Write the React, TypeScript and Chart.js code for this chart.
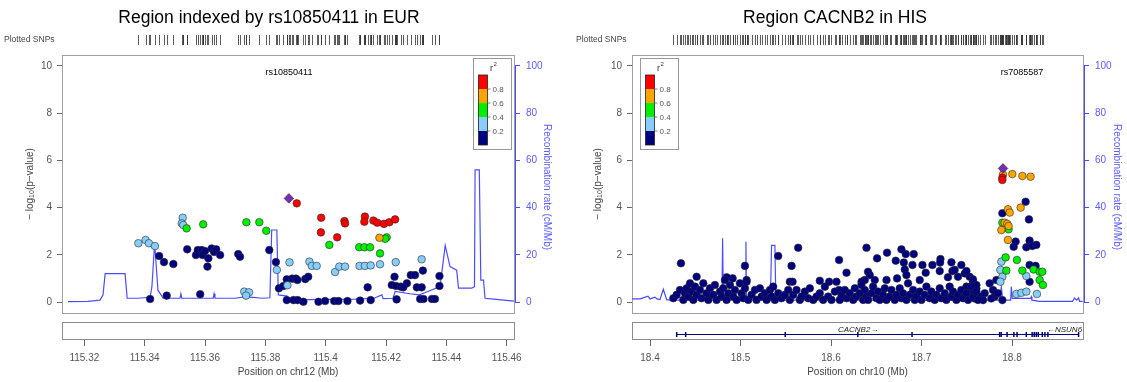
import React, { useEffect, useRef } from 'react';
import { Chart, registerables } from 'chart.js';

Chart.register(...registerables);

type Pt = [number, number];

const FONT = "'Liberation Sans', Arial, Helvetica, sans-serif";
const H = 382;

// r^2 bin colours, low -> high
const R2_COLORS = ['#000080', '#87CEFA', '#00EE00', '#FFA500', '#FF0000'];
const LEAD_COLOR = '#7A2BB8';
const RECOMB_COLOR = '#4C4CFF';
const BLUE_TEXT = '#5C5CFF';
const R2_TICK_LABELS = ['0.2', '0.4', '0.6', '0.8'];
const Y_TICKS = [0, 2, 4, 6, 8, 10];
const Y2_TICKS = [0, 20, 40, 60, 80, 100];

// ---------------- Left panel (EUR, chr12) ----------------
const leftTitle = 'Region indexed by rs10850411 in EUR';
const leftLeadName = 'rs10850411';
const leftXLabel = 'Position on chr12 (Mb)';
const leftXTicks = [115.32, 115.34, 115.36, 115.38, 115.4, 115.42, 115.44, 115.46];
const leftLead: Pt[] = [[115.3878, 4.39]];
const leftRed: Pt[] = [
  [115.3904, 4.18], [115.3985, 3.57], [115.4062, 3.43], [115.4064, 3.33], [115.413, 3.62],
  [115.4128, 3.4], [115.4158, 3.45], [115.4171, 3.36], [115.4193, 3.31], [115.4211, 3.38],
  [115.423, 3.5], [115.3984, 2.95], [115.4038, 2.74],
];
const leftOrange: Pt[] = [[115.4178, 2.72]];
const leftGreen: Pt[] = [
  [115.4202, 2.74], [115.4197, 2.68], [115.4012, 2.42], [115.4111, 2.32], [115.4128, 2.32],
  [115.4147, 2.32], [115.418, 2.06], [115.3539, 3.12], [115.3594, 3.29], [115.3737, 3.38],
  [115.378, 3.38], [115.3803, 3.02],
];
const leftLightBlue: Pt[] = [
  [115.3526, 3.57], [115.3523, 3.33], [115.3528, 3.26], [115.3379, 2.49], [115.3403, 2.63],
  [115.3414, 2.49], [115.3434, 2.37], [115.388, 1.68], [115.3946, 1.71], [115.3954, 1.53],
  [115.397, 1.53], [115.4031, 1.27], [115.4045, 1.5], [115.4064, 1.5], [115.4112, 1.53],
  [115.413, 1.53], [115.4149, 1.55], [115.418, 1.6], [115.4232, 1.69], [115.4318, 1.81],
  [115.3838, 1.36], [115.3873, 0.71], [115.373, 0.44], [115.3746, 0.41], [115.3736, 0.27],
];
const leftNavy: Pt[] = [
  [115.3418, 0.13], [115.3448, 1.95], [115.3464, 1.69], [115.3495, 1.61], [115.3473, 0.27],
  [115.3541, 2.23], [115.357, 1.99], [115.3576, 2.2], [115.3589, 2.2], [115.3592, 1.99],
  [115.36, 2.16], [115.3611, 1.85], [115.3622, 2.27], [115.363, 2.12], [115.3637, 2.23],
  [115.365, 1.99], [115.3608, 1.5], [115.3584, 0.33], [115.371, 2.03], [115.3716, 1.92],
  [115.3813, 2.2], [115.3835, 1.69], [115.3845, 0.58], [115.386, 0.68], [115.3871, 0.96],
  [115.3889, 0.99], [115.3901, 0.99], [115.3906, 0.93], [115.3932, 0.97], [115.3942, 1.07],
  [115.3871, 0.08], [115.3893, 0.08], [115.3907, 0.08], [115.3926, 0.01], [115.3976, 0.01],
  [115.3998, 0.04], [115.4028, 0.04], [115.4042, 0.04], [115.4072, 0.04], [115.4114, 0.06],
  [115.4149, 0.08], [115.4139, 0.62], [115.4228, 1.07], [115.4219, 0.72], [115.4233, 0.68],
  [115.4249, 0.65], [115.4269, 0.79], [115.4257, 0.62], [115.4282, 1.14], [115.4296, 1.14],
  [115.4322, 1.33], [115.4302, 0.62], [115.4318, 0.62], [115.4377, 1.1], [115.4377, 0.68],
  [115.4313, 0.13], [115.4324, 0.13], [115.4352, 0.13], [115.4362, 0.13], [115.4235, 0.11],
];
const leftRecomb: Pt[] = [
  [115.3146, 0.2], [115.3212, 0.3], [115.3252, 0.8], [115.3262, 3], [115.3269, 12],
  [115.3335, 12], [115.3342, 1.6], [115.3378, 1.6], [115.3418, 2.0], [115.3424, 6.5],
  [115.3433, 25], [115.3444, 5], [115.3457, 2.5], [115.3461, 1.6], [115.3517, 1.6],
  [115.352, 3.5], [115.3523, 1.6], [115.3627, 1.6], [115.363, 3.5], [115.3633, 1.6],
  [115.37, 1.6], [115.373, 2.2], [115.376, 2.0], [115.379, 1.6], [115.3815, 1.8],
  [115.3821, 30.5], [115.3838, 30.5], [115.3843, 3], [115.3872, 2.5], [115.3876, 0.8],
  [115.395, 1.0], [115.41, 1.2], [115.416, 1.6], [115.4186, 3], [115.419, 1.4],
  [115.4223, 1.6], [115.423, 4.5], [115.428, 3.5], [115.431, 3.0], [115.433, 4.0],
  [115.4379, 6.5], [115.4396, 24], [115.4412, 15], [115.4434, 13.5], [115.444, 5.9],
  [115.4484, 5.9], [115.4493, 6.5], [115.4495, 56], [115.4509, 56], [115.4514, 9.3],
  [115.4523, 9.3], [115.4528, 1.6], [115.4556, 1.2], [115.4624, 0.4],
];

// ---------------- Right panel (HIS, chr10) ----------------
const rightTitle = 'Region CACNB2 in HIS';
const rightLeadName = 'rs7085587';
const rightXLabel = 'Position on chr10 (Mb)';
const rightXTicks = [18.4, 18.5, 18.6, 18.7, 18.8];
const rightLead: Pt[] = [[18.79, 5.66]];
const rightRed: Pt[] = [[18.7893, 5.27], [18.7893, 5.17]];
const rightOrange: Pt[] = [
  [18.79, 5.4], [18.8003, 5.42], [18.8114, 5.34], [18.8205, 5.31], [18.7955, 3.93],
  [18.7974, 3.79], [18.8095, 4.0], [18.7918, 3.36], [18.7947, 3.31], [18.7962, 3.22],
  [18.7882, 3.05], [18.7955, 2.63],
];
const rightGreen: Pt[] = [
  [18.7893, 3.36], [18.7962, 3.08], [18.7929, 1.89], [18.8054, 1.78], [18.7937, 1.33],
  [18.8114, 1.33], [18.8238, 1.38], [18.8305, 1.28], [18.8334, 1.28], [18.8305, 0.93],
  [18.8341, 0.72],
];
const rightLightBlue: Pt[] = [
  [18.7882, 1.71], [18.7871, 1.36], [18.7893, 1.07], [18.7871, 0.86], [18.8158, 1.1],
  [18.8048, 0.34], [18.8103, 0.39], [18.8158, 0.44], [18.8275, 0.34],
];
const rightNavyUpper: Pt[] = [
  [18.815, 4.25], [18.7893, 3.76], [18.8187, 3.5], [18.804, 2.56], [18.8018, 2.34],
  [18.8194, 2.6], [18.8158, 2.32], [18.8224, 2.37], [18.8268, 2.42], [18.8194, 1.57],
  [18.826, 1.53], [18.8194, 0.86], [18.7893, 0.08],
  [18.744, 1.57], [18.7477, 1.21], [18.7532, 1.07], [18.7569, 0.86], [18.7496, 0.65],
  [18.7459, 0.37], [18.7551, 0.51], [18.7606, 0.58], [18.7643, 0.23], [18.7698, 0.37],
  [18.7753, 0.79], [18.779, 0.51], [18.7808, 0.23], [18.7827, 0.93], [18.7771, 0.15],
  [18.7588, 0.15], [18.768, 0.08], [18.7845, 0.37],
  [18.4342, 1.64], [18.5637, 2.3], [18.5416, 1.95], [18.6392, 2.3], [18.6089, 1.78],
  [18.6619, 2.09], [18.6778, 2.23], [18.6826, 2.03], [18.6914, 2.03], [18.6509, 1.85],
  [18.6715, 1.75], [18.6804, 1.67], [18.69, 1.57], [18.701, 1.57], [18.712, 1.57],
  [18.7209, 1.82], [18.7205, 1.67], [18.733, 1.68], [18.5564, 1.53], [18.5049, 1.53],
  [18.6815, 1.38], [18.6833, 1.14], [18.7046, 1.24], [18.7201, 1.31], [18.7341, 1.31],
  [18.7496, 1.31], [18.4515, 1.07], [18.5545, 0.86], [18.5575, 0.86], [18.4847, 1.05],
  [18.4913, 1.0], [18.5067, 0.93], [18.5876, 0.9], [18.5979, 0.86], [18.6171, 1.24],
  [18.6089, 0.51], [18.6409, 1.28], [18.6428, 1.14], [18.6373, 0.93], [18.6337, 0.86],
  [18.6483, 0.93], [18.6613, 0.93], [18.673, 1.0], [18.698, 0.93], [18.7292, 1.05],
  [18.7366, 1.36], [18.7403, 1.07], [18.7568, 0.96], [18.7606, 0.72], [18.7576, 0.44],
];
const rightNavyLower: Pt[] = [
  [18.4258, 0.16], [18.4294, 0.3], [18.4331, 0.51], [18.4368, 0.09], [18.4386, 0.37],
  [18.4405, 0.58], [18.4423, 0.23], [18.4442, 0.79], [18.446, 0.44], [18.4478, 0.09],
  [18.4497, 0.65], [18.4515, 0.3], [18.4552, 0.51], [18.457, 0.16], [18.4589, 0.79],
  [18.4625, 0.37], [18.4644, 0.09], [18.4662, 0.58], [18.4699, 0.3], [18.4717, 0.72],
  [18.4736, 0.09], [18.4773, 0.44], [18.4791, 0.23], [18.4809, 0.58], [18.4828, 0.93],
  [18.4846, 0.09], [18.4865, 0.37], [18.4883, 0.72], [18.492, 0.23], [18.4938, 0.51],
  [18.4957, 0.09], [18.4993, 0.79], [18.5012, 0.37], [18.503, 0.16], [18.5049, 0.58],
  [18.5067, 0.86], [18.5085, 0.09], [18.5122, 0.3], [18.5159, 0.51], [18.5177, 0.09],
  [18.5214, 0.58], [18.5233, 0.23], [18.5269, 0.37], [18.5288, 0.09], [18.5325, 0.51],
  [18.5343, 0.23], [18.5361, 0.65], [18.538, 0.09], [18.5417, 0.37], [18.5453, 0.16],
  [18.549, 0.3], [18.5527, 0.51], [18.5545, 0.09], [18.5582, 0.3], [18.5619, 0.51],
  [18.5656, 0.09], [18.5674, 0.23], [18.5711, 0.44], [18.5748, 0.16], [18.5766, 0.58],
  [18.5803, 0.09], [18.584, 0.23], [18.5876, 0.37], [18.5913, 0.09], [18.5932, 0.65],
  [18.5968, 0.23], [18.6005, 0.09], [18.6042, 0.44], [18.606, 0.86], [18.6097, 0.09],
  [18.6116, 0.3], [18.6152, 0.51], [18.6171, 0.16], [18.6208, 0.37], [18.6244, 0.09],
  [18.6263, 0.58], [18.6281, 0.23], [18.6318, 0.37], [18.6336, 0.72], [18.6355, 0.09],
  [18.6373, 0.51], [18.6391, 0.23], [18.641, 0.09], [18.6447, 0.37], [18.6465, 0.65],
  [18.6502, 0.16], [18.652, 0.44], [18.6539, 0.09], [18.6575, 0.3], [18.6594, 0.58],
  [18.6612, 0.09], [18.6649, 0.23], [18.6667, 0.51], [18.6704, 0.09], [18.6723, 0.3],
  [18.6759, 0.58], [18.6778, 0.16], [18.6796, 0.37], [18.6833, 0.09], [18.6851, 0.79],
  [18.687, 0.3], [18.6907, 0.51], [18.6925, 0.09], [18.6943, 0.23], [18.698, 0.44],
  [18.6999, 0.09], [18.7035, 0.3], [18.7054, 0.65], [18.7091, 0.16], [18.7109, 0.44],
  [18.7146, 0.09], [18.7164, 0.3], [18.7201, 0.58], [18.7219, 0.16], [18.7256, 0.37],
  [18.7274, 0.09], [18.7311, 0.65], [18.733, 0.23], [18.7348, 0.44], [18.7385, 0.09],
  [18.7403, 0.3], [18.744, 0.51], [18.7458, 0.16], [18.7495, 0.37], [18.7514, 0.09],
  [18.755, 0.65], [18.7569, 0.23], [18.7606, 0.44], [18.7624, 0.09],
];
const rightRecomb: Pt[] = [
  [18.3801, 1.3], [18.389, 1.3], [18.3978, 2.5], [18.4, 1.3], [18.4055, 2.0],
  [18.4077, 1.3], [18.411, 1.0], [18.4147, 5.4], [18.4184, 1.0], [18.422, 0.8],
  [18.4795, 0.8], [18.4802, 27], [18.481, 0.8], [18.5054, 0.8], [18.506, 25.5],
  [18.5065, 0.8], [18.533, 0.8], [18.5343, 24], [18.538, 24], [18.539, 0.8],
  [18.7863, 0.8], [18.7882, 6.5], [18.7896, 0.8], [18.7985, 0.8], [18.7992, 6.5],
  [18.8003, 1.5], [18.8205, 1.5], [18.8213, 2.2], [18.822, 0.8], [18.8305, 0.3],
  [18.8669, 0.3], [18.8691, 1.7], [18.8713, 0.8], [18.8735, 1.7], [18.8746, 0.3],
  [18.878, 0.3],
];
// gene track (right panel)
const rightGeneSpan: Pt = [18.4295, 18.8735];
const rightExons = [
  18.4295, 18.4394, 18.5494, 18.6296, 18.6895, 18.7863, 18.788, 18.7945, 18.802, 18.8055,
  18.8158, 18.8222, 18.8245, 18.8268, 18.829, 18.8334, 18.8363, 18.8396, 18.8735,
];
const rightGeneLabels = [
  { name: 'CACNB2', pos: 18.63, dir: 1 },
  { name: 'NSUN6', pos: 18.858, dir: -1 },
];

interface PanelCfg {
  title: string; titleX: number; leadName: string; leadLabelX: number;
  xLabel: string; xMin: number; xMax: number; xTicks: number[];
  leftW: number; rightW: number; snpLabelX: number; legendX: number;
  yTitleX: number; y2TitleX: number;
  lead: Pt[]; red: Pt[]; orange: Pt[]; green: Pt[]; lightBlue: Pt[]; navy: Pt[];
  recomb: Pt[];
  geneSpan?: Pt; exons?: number[]; geneLabels?: { name: string; pos: number; dir: number }[];
}

const panels: { cfg: PanelCfg; left: number; width: number }[] = [
  {
    left: 0, width: 563,
    cfg: {
      title: leftTitle, titleX: 269, leadName: leftLeadName, leadLabelX: 289,
      xLabel: leftXLabel, xMin: 115.3126, xMax: 115.4624, xTicks: leftXTicks,
      leftW: 62, rightW: 49, snpLabelX: 4, legendX: 473, yTitleX: 30, y2TitleX: 547,
      lead: leftLead, red: leftRed, orange: leftOrange, green: leftGreen,
      lightBlue: leftLightBlue, navy: leftNavy, recomb: leftRecomb,
    },
  },
  {
    left: 563, width: 564,
    cfg: {
      title: rightTitle, titleX: 272, leadName: rightLeadName, leadLabelX: 459,
      xLabel: rightXLabel, xMin: 18.3801, xMax: 18.8784, xTicks: rightXTicks,
      leftW: 69, rightW: 44, snpLabelX: 13, legendX: 77, yTitleX: 35, y2TitleX: 554,
      lead: rightLead, red: rightRed, orange: rightOrange, green: rightGreen,
      lightBlue: rightLightBlue, navy: [...rightNavyUpper, ...rightNavyLower], recomb: rightRecomb,
      geneSpan: rightGeneSpan, exons: rightExons, geneLabels: rightGeneLabels,
    },
  },
];

const Y_MIN = -1.61, Y_MAX = 10.466;
const Y2_MIN = -16.1, Y2_MAX = 104.66;
const PLOT_TOP = 55;
const BOX_H = 258; // scatter box height
const GENE_H = 17; // gene box height

function fmt(v: number) {
  return String(parseFloat(Number(v).toFixed(3)));
}

function drawTextParts(ctx: CanvasRenderingContext2D, parts: { t: string; size: number; dy: number }[], cx: number, cy: number) {
  let total = 0;
  for (const p of parts) { ctx.font = `${p.size}px ${FONT}`; total += ctx.measureText(p.t).width; }
  let x = cx - total / 2;
  for (const p of parts) {
    ctx.font = `${p.size}px ${FONT}`;
    ctx.fillText(p.t, x, cy + p.dy);
    x += ctx.measureText(p.t).width;
  }
}

function makeDeco(cfg: PanelCfg) {
  return {
    id: 'deco',
    beforeDatasetsDraw(chart: any) {
      const { ctx, chartArea: a } = chart;
      ctx.save();
      ctx.strokeStyle = '#a0a0a0';
      ctx.lineWidth = 1;
      ctx.strokeRect(Math.round(a.left) + 0.5, PLOT_TOP + 0.5, Math.round(a.right - a.left), BOX_H);
      ctx.strokeStyle = '#8c8c8c';
      ctx.strokeRect(Math.round(a.left) + 0.5, Math.round(a.bottom) - GENE_H - 0.5, Math.round(a.right - a.left), GENE_H);
      ctx.restore();
    },
    afterDraw(chart: any) {
      const { ctx, chartArea: a, scales } = chart;
      const xs = scales.x, y2 = scales.y2;
      ctx.save();
      // title
      ctx.fillStyle = '#000';
      ctx.font = `17.5px ${FONT}`;
      ctx.textAlign = 'center';
      ctx.textBaseline = 'alphabetic';
      ctx.fillText(cfg.title, cfg.titleX, 23);
      // plotted SNPs rug
      ctx.font = `8.5px ${FONT}`;
      ctx.fillStyle = '#444';
      ctx.textAlign = 'left';
      ctx.fillText('Plotted SNPs', cfg.snpLabelX, 42);
      ctx.strokeStyle = '#333';
      ctx.lineWidth = 0.8;
      const all = [cfg.lead, cfg.red, cfg.orange, cfg.green, cfg.lightBlue, cfg.navy].flat();
      for (const [x] of all) {
        const px = Math.round(xs.getPixelForValue(x)) + 0.5;
        ctx.beginPath(); ctx.moveTo(px, 35); ctx.lineTo(px, 45); ctx.stroke();
      }
      // lead label
      ctx.fillStyle = '#000';
      ctx.font = `9px ${FONT}`;
      ctx.textAlign = 'center';
      ctx.fillText(cfg.leadName, cfg.leadLabelX, 75);
      // blue recombination axis line
      ctx.strokeStyle = RECOMB_COLOR;
      ctx.lineWidth = 1;
      const bx = Math.round(a.right) + 1.5;
      ctx.beginPath();
      ctx.moveTo(bx, y2.getPixelForValue(0));
      ctx.lineTo(bx, y2.getPixelForValue(100));
      ctx.stroke();
      // legend
      const lx = cfg.legendX, ly = 58;
      ctx.fillStyle = '#fff';
      ctx.fillRect(lx, ly, 38, 91);
      ctx.strokeStyle = '#999';
      ctx.strokeRect(lx + 0.5, ly + 0.5, 38, 91);
      const segH = 14, barX = lx + 5.5, barY = 75, barW = 9;
      for (let i = 0; i < 5; i++) {
        ctx.fillStyle = R2_COLORS[4 - i];
        ctx.fillRect(barX, barY + i * segH, barW, segH);
      }
      ctx.strokeStyle = '#222';
      ctx.lineWidth = 0.8;
      ctx.strokeRect(barX, barY, barW, segH * 5);
      ctx.fillStyle = '#555';
      ctx.font = `8px ${FONT}`;
      ctx.textAlign = 'left';
      ctx.textBaseline = 'middle';
      for (let i = 0; i < 4; i++) {
        const ty = barY + (i + 1) * segH;
        ctx.strokeStyle = '#666';
        ctx.beginPath(); ctx.moveTo(barX + barW, ty); ctx.lineTo(barX + barW + 3, ty); ctx.stroke();
        ctx.fillText(R2_TICK_LABELS[3 - i], barX + barW + 5, ty + 0.5);
      }
      ctx.fillStyle = '#333';
      ctx.textBaseline = 'alphabetic';
      ctx.font = `9px ${FONT}`;
      ctx.textAlign = 'left';
      ctx.fillText('r', lx + 17, 71);
      ctx.font = `6px ${FONT}`;
      ctx.fillText('2', lx + 20.5, 66);
      // y-axis title
      ctx.fillStyle = '#444';
      ctx.save();
      ctx.translate(cfg.yTitleX, 184);
      ctx.rotate(-Math.PI / 2);
      ctx.textAlign = 'left';
      ctx.textBaseline = 'middle';
      drawTextParts(ctx, [
        { t: '\u2212 log', size: 10, dy: 0 },
        { t: '10', size: 7, dy: 2.5 },
        { t: '(p\u2212value)', size: 10, dy: 0 },
      ], 0, 0);
      ctx.restore();
      // recombination title
      ctx.save();
      ctx.fillStyle = BLUE_TEXT;
      ctx.translate(cfg.y2TitleX, 187);
      ctx.rotate(Math.PI / 2);
      ctx.textAlign = 'center';
      ctx.textBaseline = 'middle';
      ctx.font = `10px ${FONT}`;
      ctx.fillText('Recombination rate (cM/Mb)', 0, 0);
      ctx.restore();
      // gene track
      if (cfg.geneSpan) {
        const gy = Math.round(a.bottom) - 5.5;
        ctx.strokeStyle = '#00007A';
        ctx.fillStyle = '#00007A';
        ctx.lineWidth = 1;
        ctx.beginPath();
        ctx.moveTo(xs.getPixelForValue(cfg.geneSpan[0]), gy);
        ctx.lineTo(xs.getPixelForValue(cfg.geneSpan[1]), gy);
        ctx.stroke();
        for (const e of cfg.exons || []) {
          const px = xs.getPixelForValue(e);
          ctx.fillRect(px - 0.75, gy - 2.5, 1.5, 5);
        }
        ctx.fillStyle = '#222';
        ctx.font = `italic 8px ${FONT}`;
        ctx.textBaseline = 'alphabetic';
        ctx.textAlign = 'center';
        for (const g of cfg.geneLabels || []) {
          const txt = g.dir > 0 ? `${g.name}\u2192` : `\u2190${g.name}`;
          ctx.fillText(txt, xs.getPixelForValue(g.pos), gy - 3);
        }
      }
      ctx.restore();
    },
  };
}

function buildConfig(cfg: PanelCfg): any {
  const pts = (arr: Pt[]) => arr.map(([x, y]) => ({ x, y }));
  const sc = (arr: Pt[], color: string, style = 'circle', r = 3.8) => ({
    data: pts(arr), yAxisID: 'y', pointStyle: style, pointRadius: r,
    pointBackgroundColor: color, pointBorderColor: '#2a2a2a', pointBorderWidth: 0.6, showLine: false,
  });
  const tickFont = { family: FONT, size: 10 };
  return {
    type: 'scatter',
    data: {
      datasets: [
        sc(cfg.lead, LEAD_COLOR, 'rectRot', 4.8),
        sc(cfg.red, R2_COLORS[4]),
        sc(cfg.orange, R2_COLORS[3]),
        sc(cfg.green, R2_COLORS[2]),
        sc(cfg.lightBlue, R2_COLORS[1]),
        sc(cfg.navy, R2_COLORS[0]),
        {
          data: pts(cfg.recomb), yAxisID: 'y2', showLine: true, pointRadius: 0,
          borderColor: RECOMB_COLOR, borderWidth: 1.2, tension: 0, fill: false,
        },
      ],
    },
    options: {
      responsive: false,
      animation: false,
      devicePixelRatio: 1,
      events: [],
      layout: { padding: { top: PLOT_TOP, left: 0, right: 0, bottom: 0 } },
      plugins: { legend: { display: false }, tooltip: { enabled: false }, title: { display: false } },
      scales: {
        x: {
          type: 'linear', position: 'bottom', min: cfg.xMin, max: cfg.xMax,
          afterBuildTicks: (s: any) => { s.ticks = cfg.xTicks.map((v) => ({ value: v })); },
          afterFit: (s: any) => { s.height = 42; },
          ticks: { font: tickFont, color: '#555', padding: 6, maxRotation: 0, autoSkip: false, callback: (v: any) => fmt(v) },
          grid: { drawOnChartArea: false, drawTicks: true, tickLength: 6, color: '#666' },
          border: { display: false },
          title: { display: true, text: cfg.xLabel, font: { family: FONT, size: 10 }, color: '#444', padding: { top: 0, bottom: 4 } },
        },
        y: {
          type: 'linear', position: 'left', min: Y_MIN, max: Y_MAX,
          afterBuildTicks: (s: any) => { s.ticks = Y_TICKS.map((v) => ({ value: v })); },
          afterFit: (s: any) => { s.width = cfg.leftW; },
          ticks: { font: tickFont, color: '#555', padding: 5, callback: (v: any) => fmt(v) },
          grid: { drawOnChartArea: false, drawTicks: true, tickLength: 5, color: '#666' },
          border: { display: false },
        },
        y2: {
          type: 'linear', position: 'right', min: Y2_MIN, max: Y2_MAX,
          afterBuildTicks: (s: any) => { s.ticks = Y2_TICKS.map((v) => ({ value: v })); },
          afterFit: (s: any) => { s.width = cfg.rightW; },
          ticks: { font: tickFont, color: BLUE_TEXT, padding: 6, callback: (v: any) => fmt(v) },
          grid: { drawOnChartArea: false, drawTicks: true, tickLength: 6, color: RECOMB_COLOR },
          border: { display: false },
        },
      },
    },
    plugins: [makeDeco(cfg)],
  };
}

function Panel({ cfg, left, width }: { cfg: PanelCfg; left: number; width: number }) {
  const ref = useRef<HTMLCanvasElement>(null);
  useEffect(() => {
    const chart = new Chart(ref.current as HTMLCanvasElement, buildConfig(cfg));
    return () => chart.destroy();
  }, [cfg]);
  return (
    <canvas
      ref={ref}
      width={width}
      height={H}
      style={{ position: 'absolute', left, top: 0, width, height: H }}
    />
  );
}

export default function App() {
  return (
    <div style={{ position: 'fixed', left: 0, top: 0, width: 1127, height: H, background: '#fff' }}>
      {panels.map((p, i) => (
        <Panel key={i} cfg={p.cfg} left={p.left} width={p.width} />
      ))}
    </div>
  );
}
